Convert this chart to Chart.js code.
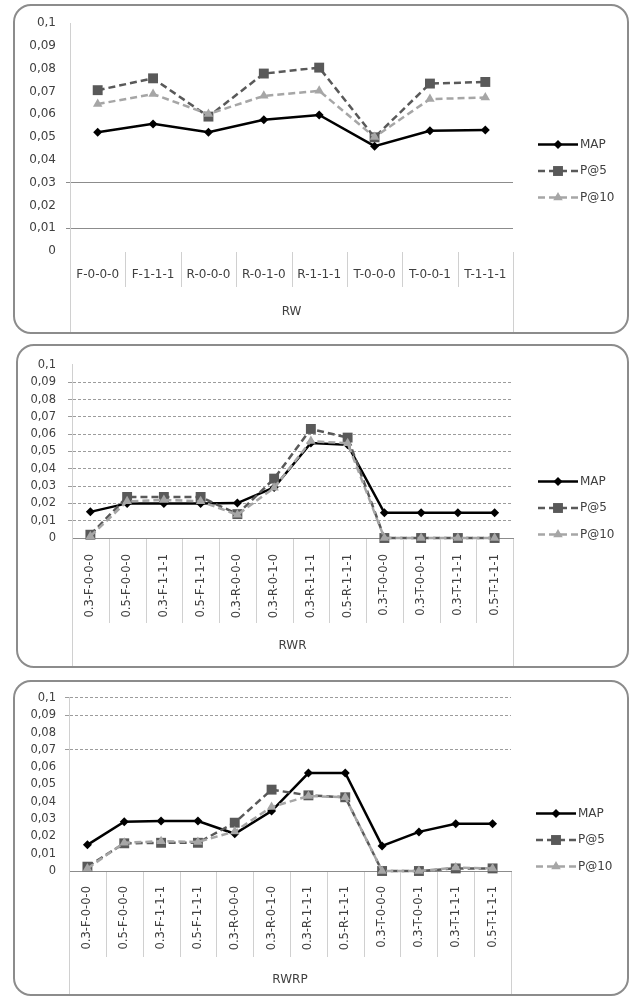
<!DOCTYPE html>
<html>
<head>
<meta charset="utf-8">
<script src="https://cdn.jsdelivr.net/npm/chart.js@4.4.1/dist/chart.umd.min.js"></script>
<style>
    body { margin: 0; background: #fff; width: 631px; height: 997px; position: relative; overflow: hidden; }
    .panel { position: absolute; box-sizing: border-box; border: 2px solid #8c8c8c; border-radius: 18px; background: #fff; }
    .panel canvas { display: block; }
</style>
</head>
<body>
<div class="panel" style="left:13px;top:4px;width:616px;height:330px"><canvas id="graficaRW" width="612" height="326"></canvas></div>
<div class="panel" style="left:16px;top:344px;width:613px;height:324px"><canvas id="graficaRWR" width="609" height="320"></canvas></div>
<div class="panel" style="left:13px;top:680px;width:616px;height:316px"><canvas id="graficaRWRP" width="612" height="312"></canvas></div>
<script>
// Etiquetas del eje Y y nombres de las series
const etiquetasY = ['0', '0,01', '0,02', '0,03', '0,04', '0,05', '0,06', '0,07', '0,08', '0,09', '0,1'];
const nombresSeries = ['MAP', 'P@5', 'P@10'];

// RW
const categoriasRW = ['F-0-0-0', 'F-1-1-1', 'R-0-0-0', 'R-0-1-0', 'R-1-1-1', 'T-0-0-0', 'T-0-0-1', 'T-1-1-1'];
const mapRW = [0.0521, 0.0558, 0.0521, 0.0576, 0.0597, 0.0460, 0.0528, 0.0531];
const p5RW = [0.0706, 0.0758, 0.0590, 0.0779, 0.0805, 0.0499, 0.0735, 0.0742];
const p10RW = [0.0645, 0.0689, 0.0601, 0.0681, 0.0703, 0.0500, 0.0667, 0.0674];

// RWR
const categoriasRWR = ['0.3-F-0-0-0', '0.5-F-0-0-0', '0.3-F-1-1-1', '0.5-F-1-1-1', '0.3-R-0-0-0', '0.3-R-0-1-0',
    '0.3-R-1-1-1', '0.5-R-1-1-1', '0.3-T-0-0-0', '0.3-T-0-0-1', '0.3-T-1-1-1', '0.5-T-1-1-1'];
const mapRWR = [0.0151, 0.0200, 0.0200, 0.0200, 0.0202, 0.0292, 0.0549, 0.0538, 0.0146, 0.0146, 0.0146, 0.0146];
const p5RWR = [0.0019, 0.0237, 0.0237, 0.0237, 0.0138, 0.0343, 0.0630, 0.0580, 0, 0, 0, 0];
const p10RWR = [0.0010, 0.0212, 0.0220, 0.0212, 0.0134, 0.0290, 0.0560, 0.0547, 0, 0, 0, 0];

// RWRP
const categoriasRWRP = categoriasRWR;
const mapRWRP = [0.0151, 0.0285, 0.0289, 0.0289, 0.0215, 0.0346, 0.0566, 0.0566, 0.0145, 0.0226, 0.0273, 0.0273];
const p5RWRP = [0.0025, 0.0160, 0.0163, 0.0163, 0.0279, 0.0470, 0.0437, 0.0426, 0, 0, 0.0015, 0.0015];
const p10RWRP = [0.0015, 0.0163, 0.0172, 0.0168, 0.0228, 0.0370, 0.0433, 0.0426, 0, 0, 0.0020, 0.0015];

Chart.defaults.font.family = '"DejaVu Sans", sans-serif';
Chart.defaults.color = '#404040';

// Separadores de categorías y leyenda al estilo Excel
const pluginExtras = {
    id: 'extras',
    afterDraw(chart, args, opts) {
        const ctx = chart.ctx;
        const area = chart.chartArea;
        const ejeX = chart.scales.x;
        const n = chart.data.labels.length;
        const paso = ejeX.getPixelForValue(1) - ejeX.getPixelForValue(0);
        ctx.save();
        ctx.strokeStyle = '#d0d0d0';
        ctx.lineWidth = 1;
        for (let i = 0; i <= n; i++) {
            const px = Math.round(ejeX.getPixelForValue(i) - paso / 2) + 0.5;
            const fin = (i === 0 || i === n) ? chart.height : area.bottom + opts.largoSeparador;
            ctx.beginPath();
            ctx.moveTo(px, area.bottom + 1);
            ctx.lineTo(px, fin);
            ctx.stroke();
        }

        // Leyenda
        const lx = area.right + 25;
        const cy = chart.height / 2 + 2;
        chart.data.datasets.forEach((ds, i) => {
            const y = cy + (i - 1) * 26.5;
            ctx.setLineDash(ds.borderDash || []);
            ctx.strokeStyle = ds.borderColor;
            ctx.lineWidth = ds.borderWidth;
            ctx.beginPath();
            ctx.moveTo(lx, y);
            ctx.lineTo(lx + 40, y);
            ctx.stroke();
            ctx.setLineDash([]);
            ctx.fillStyle = ds.pointBackgroundColor;
            Chart.helpers.drawPoint(ctx, { pointStyle: ds.pointStyle, radius: ds.pointRadius, rotation: 0, borderWidth: 0 }, lx + 20, y);
            ctx.fillStyle = '#404040';
            ctx.font = '12px "DejaVu Sans"';
            ctx.textBaseline = 'middle';
            ctx.textAlign = 'left';
            ctx.fillText(ds.label, lx + 42, y);
        });
        ctx.restore();
    }
};

function serie(nombre, valores, color, guiones, forma, radio, orden) {
    return {
        label: nombre,
        data: valores,
        borderColor: color,
        backgroundColor: color,
        pointBackgroundColor: color,
        pointBorderColor: color,
        pointBorderWidth: 0,
        borderWidth: 2.5,
        borderDash: guiones,
        pointStyle: forma,
        pointRadius: radio,
        tension: 0,
        clip: false,
        order: orden
    };
}

function crearGrafica(id, grupo, categorias, valMap, valP5, valP10, conf) {
    const ctx = document.getElementById(id).getContext('2d');
    return new Chart(ctx, {
        type: 'line',
        data: {
            labels: categorias,
            datasets: [
                serie(nombresSeries[0], valMap, '#000000', [], 'rectRot', 4.5, 3),
                serie(nombresSeries[1], valP5, '#595959', [7, 4], 'rect', 7, 2),
                serie(nombresSeries[2], valP10, '#a6a6a6', [7, 4], 'triangle', 5.5, 1)
            ]
        },
        options: {
            responsive: false,
            animation: false,
            layout: { padding: conf.relleno },
            plugins: {
                legend: { display: false },
                tooltip: { enabled: false },
                extras: { largoSeparador: conf.largoSep }
            },
            scales: {
                x: {
                    offset: true,
                    afterFit: s => { s.height = conf.altoX; },
                    grid: { display: false, drawTicks: false },
                    border: { display: conf.ejeX, color: '#8c8c8c', width: 1 },
                    ticks: {
                        autoSkip: false,
                        minRotation: conf.rot,
                        maxRotation: conf.rot,
                        padding: conf.padX,
                        font: { size: conf.fuente }
                    },
                    title: {
                        display: true,
                        text: grupo,
                        font: { size: 12 },
                        padding: { top: 0, bottom: conf.padTitulo }
                    }
                },
                y: {
                    min: 0,
                    max: 0.1,
                    afterFit: s => { s.width = conf.anchoY; },
                    grid: {
                        color: c => conf.rejilla.includes(Math.round(c.tick.value * 100)) ? conf.colorRejilla : 'rgba(0,0,0,0)',
                        lineWidth: 1,
                        tickLength: 4
                    },
                    border: { color: '#d0d0d0', width: 1, dash: conf.dash },
                    ticks: {
                        stepSize: 0.01,
                        padding: conf.padY,
                        font: { size: conf.fuente },
                        callback: (v, i) => etiquetasY[i]
                    }
                }
            }
        },
        plugins: [pluginExtras]
    });
}

crearGrafica('graficaRW', 'RW', categoriasRW, mapRW, p5RW, p10RW, {
    relleno: { top: 15, right: 114, left: 0, bottom: 0 },
    anchoY: 55, padY: 10, altoX: 81, padX: 17, rot: 0, fuente: 12,
    rejilla: [1, 3], dash: [], colorRejilla: '#8c8c8c', ejeX: false, largoSep: 36, padTitulo: 13
});

crearGrafica('graficaRWR', 'RWR', categoriasRWR, mapRWR, p5RWR, p10RWR, {
    relleno: { top: 16, right: 114, left: 0, bottom: 0 },
    anchoY: 54, padY: 12, altoX: 128, padX: 16, rot: 90, fuente: 11.5,
    rejilla: [1, 2, 3, 4, 5, 6, 7, 8, 9], dash: [3, 2], colorRejilla: '#9c9c9c', ejeX: true, largoSep: 85, padTitulo: 13
});

crearGrafica('graficaRWRP', 'RWRP', categoriasRWRP, mapRWRP, p5RWRP, p10RWRP, {
    relleno: { top: 15, right: 116, left: 0, bottom: 0 },
    anchoY: 54, padY: 9, altoX: 123, padX: 15, rot: 90, fuente: 11.5,
    rejilla: [7, 9, 10], dash: [3, 2], colorRejilla: '#9c9c9c', ejeX: true, largoSep: 86, padTitulo: 7
});
</script>
</body>
</html>
